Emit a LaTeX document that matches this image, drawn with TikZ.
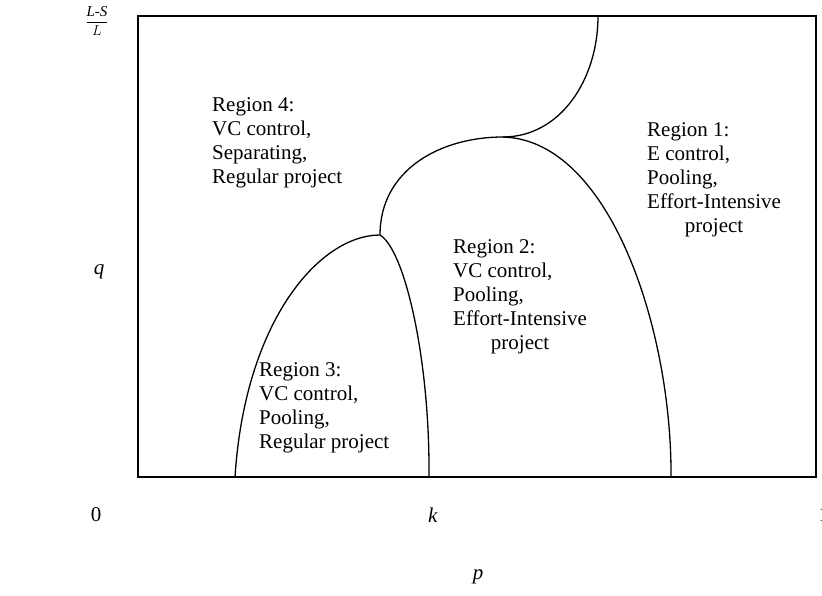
\documentclass[tikz,border=0pt]{standalone}
\usepackage{fontspec}
\setmainfont{Liberation Serif}
\usepackage{tikz}
\usetikzlibrary{positioning}
\newcommand{\regfont}{\fontsize{21}{24}\selectfont}

\begin{document}
\begin{tikzpicture}[x=1pt,y=-1pt,
    region/.style={anchor=base west,inner sep=0pt,font=\regfont},
    axislbl/.style={inner sep=0pt,font=\regfont}]
    \useasboundingbox (0,0) rectangle (822,595);

    % frame
    \draw[line width=1.8pt] (138,16) rectangle (816,477);

    % boundary points
    \coordinate (foot3l) at (235,477);
    \coordinate (foot3r) at (429,477);
    \coordinate (foot2r) at (671,477);
    \coordinate (peak3) at (380,235);
    \coordinate (peak2) at (503,137);
    \coordinate (topend) at (598,16);

    % region boundaries
    \draw[line width=1.3pt] (foot3l) .. controls (245,320) and (320,235) .. (peak3);
    \draw[line width=1.3pt] (peak3) .. controls (405,250) and (430,360) .. (foot3r);
    \draw[line width=1.3pt] (peak3) .. controls (380,170) and (440,137) .. (peak2);
    \draw[line width=1.3pt] (peak2) .. controls (610,140) and (672,330) .. (foot2r);
    \draw[line width=1.3pt] (peak2) .. controls (560,137) and (598,80) .. (topend);

    % region texts
    \node[region] (reg4) at (212,111) {\begin{tabular}[t]{@{}l@{}}Region 4:\\VC control,\\Separating,\\Regular project\end{tabular}};
    \node[region] (reg1) at (647,136) {\begin{tabular}[t]{@{}l@{}}Region 1:\\E control,\\Pooling,\\Effort-Intensive\\\multicolumn{1}{@{}c@{}}{project}\end{tabular}};
    \node[region] (reg2) at (453,253) {\begin{tabular}[t]{@{}l@{}}Region 2:\\VC control,\\Pooling,\\Effort-Intensive\\\multicolumn{1}{@{}c@{}}{project}\end{tabular}};
    \node[region] (reg3) at (259,376) {\begin{tabular}[t]{@{}l@{}}Region 3:\\VC control,\\Pooling,\\Regular project\end{tabular}};

    % axis labels
    \node[inner sep=0pt,font=\fontsize{15}{17}\selectfont] (qmax) at (97,21) {$\displaystyle\frac{\textit{L-S}}{L}$};
    \node[axislbl] (qlbl) at (99,272) {\textit{q}};
    \node[axislbl] (zero) at (96,515) {0};
    \node[axislbl] (klbl) at (433,515) {\textit{k}};
    \node[axislbl] (one) at (824,515) {1};
    \node[axislbl] (plbl) at (478,577) {\textit{p}};
\end{tikzpicture}
\end{document}
